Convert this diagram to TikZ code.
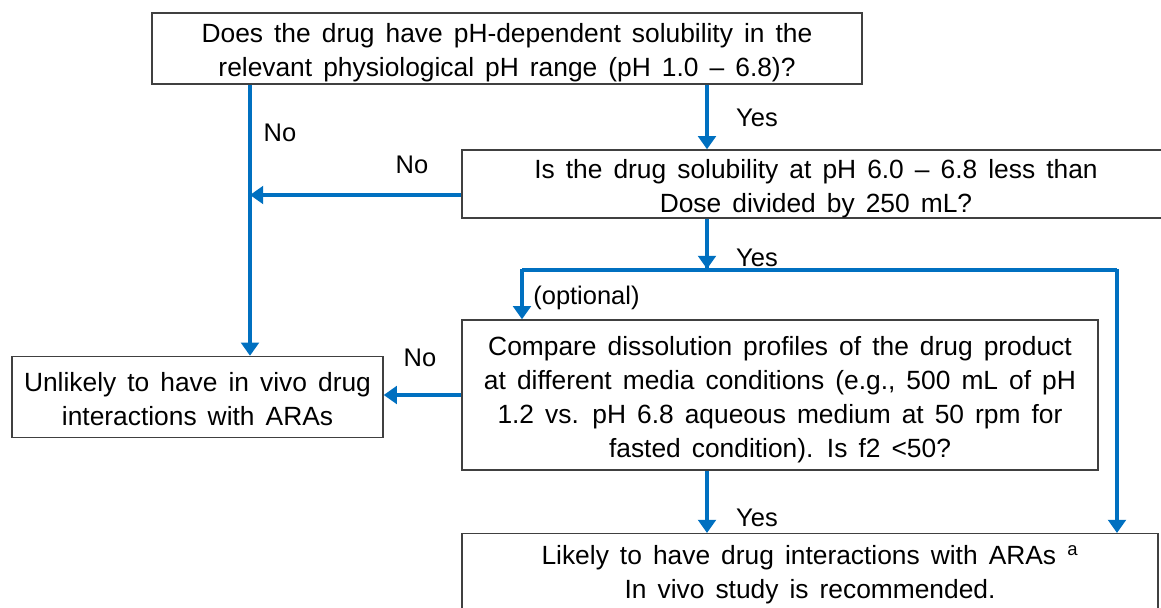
\documentclass[tikz,border=0pt]{standalone}
\usepackage{fontspec}
\setmainfont{Liberation Sans}
\usetikzlibrary{arrows.meta,calc}
\definecolor{arrblue}{RGB}{0,112,192}
\definecolor{boxgray}{RGB}{64,64,64}
\newcommand{\boxfont}{\fontsize{15}{19.3}\selectfont\spaceskip=0.42em plus 0.1em minus 0.1em\relax}
\begin{document}
\begin{tikzpicture}[x=0.02cm,y=-0.02cm,
  box/.style={draw=boxgray,line width=0.8pt,fill=white,rectangle,inner sep=0pt},
  txt/.style={align=center,inner sep=0pt,font=\boxfont,yshift=-0.09cm},
  arr/.style={draw=arrblue,line width=2.3pt,-{Triangle[width=10pt,length=7.5pt]}},
  ln/.style={draw=arrblue,line width=2.3pt},
  lbl/.style={font=\fontsize{14.5}{19.3}\selectfont,inner sep=0pt}]
\useasboundingbox (0,0) rectangle (1161,608);
\clip (0,0) rectangle (1161,608);
% boxes
\node[box,minimum width=710*0.02cm,minimum height=71*0.02cm] (b1) at (507,48.5) {};
\node[txt] (t1) at (b1.center)
  {Does the drug have pH-dependent solubility in the\\relevant physiological pH range (pH 1.0 -- 6.8)?};
\node[box,minimum width=708*0.02cm,minimum height=68*0.02cm] (b2) at (816,184) {};
\node[txt] (t2) at (b2.center)
  {Is the drug solubility at pH 6.0 -- 6.8 less than\\Dose divided by 250 mL?};
\node[box,minimum width=636*0.02cm,minimum height=150*0.02cm] (b3) at (780,395) {};
\node[txt] (t3) at (b3.center)
  {Compare dissolution profiles of the drug product\\at different media conditions (e.g., 500 mL of pH\\1.2 vs. pH 6.8 aqueous medium at 50 rpm for\\fasted condition). Is f2 <50?};
\node[box,minimum width=371*0.02cm,minimum height=81*0.02cm] (b4) at (197.5,397) {};
\node[txt,yshift=0.05cm] (t4) at (b4.center)
  {Unlikely to have in vivo drug\\interactions with ARAs};
\node[box,minimum width=696*0.02cm,minimum height=120*0.02cm,anchor=north] (b5) at (810,533) {};
\node[txt,anchor=north,yshift=0.09cm] (t5) at (810,545)
  {Likely to have drug interactions with ARAs \textsuperscript{a}\\In vivo study is recommended.};
% coordinates
\coordinate (vl) at (250,0);
\coordinate (vr) at (707,0);
\coordinate (y2) at (0,195);
\coordinate (jl) at (522,270);
\coordinate (jm) at (707,270);
\coordinate (jr) at (1117,270);
% connectors
\draw[arr] (b1.south -| vl) -- (b4.north -| vl);
\draw[arr] (b2.west |- y2) -- (vl |- y2);
\draw[arr] (b1.south -| vr) -- (b2.north -| vr);
\draw[ln] (b2.south -| vr) -- (jm);
\draw[arr] (b2.south -| vr) -- ($(jm)+(0,-1)$);
\draw[ln] (jl) -- (jr);
\draw[arr] ($(jl)+(0,-1.1)$) -- (b3.north -| jl);
\draw[arr] ($(jr)+(0,-1.1)$) -- (b5.north -| jr);
\draw[arr] (b3.west) -- (b3.west -| b4.east);
\draw[arr] (b3.south -| vr) -- (b5.north -| vr);
% labels
\node[lbl] (l1) at (280,133) {No};
\node[lbl] (l2) at (757,118) {Yes};
\node[lbl] (l3) at (412,165) {No};
\node[lbl] (l4) at (757,258) {Yes};
\node[lbl,anchor=west] (l5) at (533,298) {(optional)};
\node[lbl] (l6) at (420,358) {No};
\node[lbl] (l7) at (757,518) {Yes};
\end{tikzpicture}
\end{document}
